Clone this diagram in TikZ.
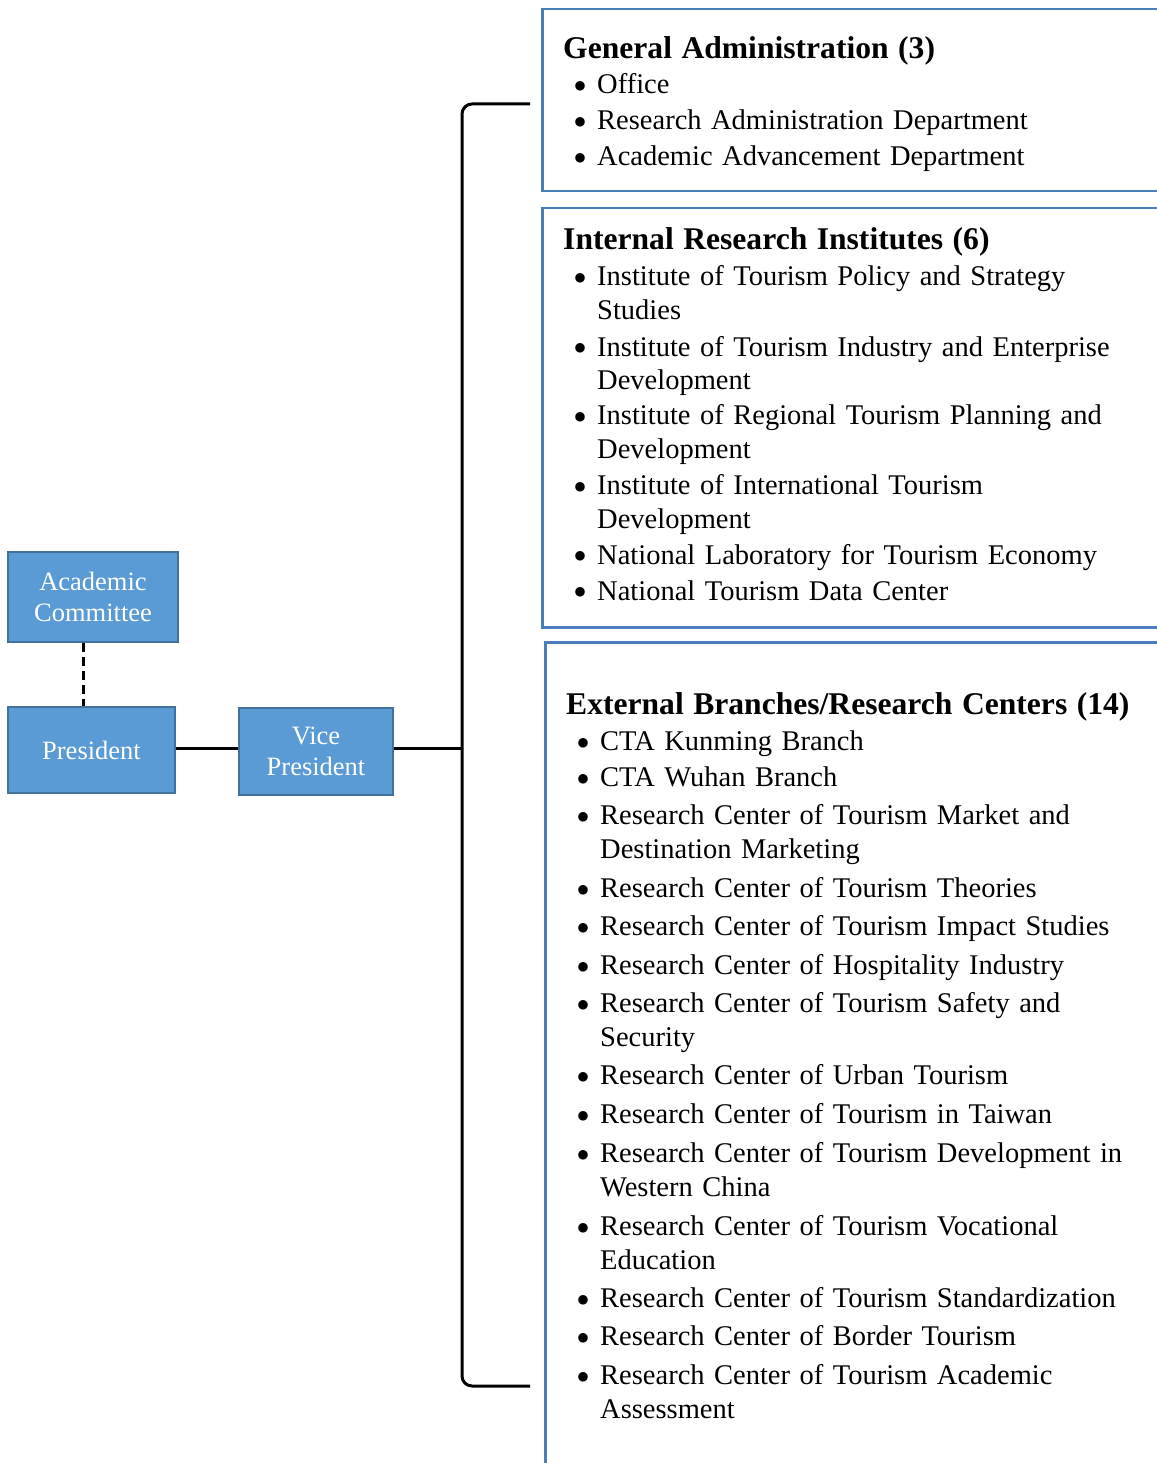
\documentclass[tikz,border=0pt]{standalone}
\usepackage{fontspec}
\setmainfont{Liberation Serif}
\usepackage{xcolor}
\usepackage{graphicx}
\usepackage{tikz}
\usetikzlibrary{positioning, calc}
\definecolor{boxfill}{HTML}{5B9BD5}
\definecolor{boxline}{HTML}{41719C}
\definecolor{frameblue}{HTML}{4A7EBB}

\newcommand{\bitem}{\hspace*{10pt}\makebox[24pt][l]{\smash{\raisebox{-0.19em}{\scalebox{1.4}{\textbullet}}}}}
\newcommand{\bcont}{\hspace*{34pt}}
\newcommand{\listhead}[1]{{\fontsize{31.6}{34}\selectfont\bfseries #1}}

\begin{document}
\begin{tikzpicture}[x=1pt, y=-1pt,
    orgbox/.style={
        rectangle, fill=boxfill, draw=boxline, line width=2pt,
        text=white, align=center, inner sep=0pt,
        font=\fontsize{26.5}{31}\selectfont,
    },
    framebox/.style={
        rectangle, draw=frameblue, line width=2.5pt,
        anchor=north west, inner sep=0pt,
    },
    listtext/.style={
        anchor=north west, inner sep=0pt, align=left,
        text width=600pt,
    },
    link/.style={draw=black, line width=3pt},
    bracket/.style={draw=black, line width=3pt, rounded corners=10pt},
]
\useasboundingbox (0,0) rectangle (1156,1463);

% ── Left: leadership ───────────────────────────────────────────────────
\node[orgbox, minimum width=170pt, minimum height=90pt] (acad) at (93,597) {Academic\\Committee};
\node[orgbox, minimum width=167pt, minimum height=86pt] (pres) at (91.5,750) {President};
\node[orgbox, minimum width=154pt, minimum height=87pt] (vice) at (316,751) {Vice\\President};

% ── Right: frames ──────────────────────────────────────────────────────
\node[framebox, minimum width=640pt, minimum height=182pt] (genbox) at (541,8) {};
\node[framebox, minimum width=640pt, minimum height=419pt] (intbox) at (541,207) {};
\node[framebox, minimum width=640pt, minimum height=860pt] (extbox) at (544,641) {};

% ── General Administration ─────────────────────────────────────────────
\node[listtext, font=\fontsize{28.5}{34}\selectfont] (genlist) at (563,36.6) {
    \listhead{General Administration (3)}\\[1pt]
    \bitem Office\\[2pt]
    \bitem Research Administration Department\\[2pt]
    \bitem Academic Advancement Department
};

% ── Internal Research Institutes ───────────────────────────────────────
\node[listtext, font=\fontsize{28.5}{33.5}\selectfont] (intlist) at (563,227) {
    \listhead{Internal Research Institutes (6)}\\[3pt]
    \bitem Institute of Tourism Policy and Strategy\\
    \bcont Studies\\[3.5pt]
    \bitem Institute of Tourism Industry and Enterprise\\
    \bcont Development\\[1.5pt]
    \bitem Institute of Regional Tourism Planning and\\
    \bcont Development\\[3pt]
    \bitem Institute of International Tourism\\
    \bcont Development\\[2.5pt]
    \bitem National Laboratory for Tourism Economy\\[2.5pt]
    \bitem National Tourism Data Center
};

% ── External Branches / Research Centers ───────────────────────────────
\node[listtext, font=\fontsize{28.5}{34}\selectfont] (extlist) at (566,692.6) {
    \listhead{External Branches/Research Centers (14)}\\[2pt]
    \bitem CTA Kunming Branch\\[2pt]
    \bitem CTA Wuhan Branch\\[4pt]
    \bitem Research Center of Tourism Market and\\
    \bcont Destination Marketing\\[5pt]
    \bitem Research Center of Tourism Theories\\[4pt]
    \bitem Research Center of Tourism Impact Studies\\[5pt]
    \bitem Research Center of Hospitality Industry\\[4pt]
    \bitem Research Center of Tourism Safety and\\
    \bcont Security\\[4pt]
    \bitem Research Center of Urban Tourism\\[5pt]
    \bitem Research Center of Tourism in Taiwan\\[5pt]
    \bitem Research Center of Tourism Development in\\
    \bcont Western China\\[5pt]
    \bitem Research Center of Tourism Vocational\\
    \bcont Education\\[4pt]
    \bitem Research Center of Tourism Standardization\\[4pt]
    \bitem Research Center of Border Tourism\\[5pt]
    \bitem Research Center of Tourism Academic\\
    \bcont Assessment
};

% ── Links ──────────────────────────────────────────────────────────────
\coordinate (brmid) at (462,748);
\coordinate (brtop) at (530,104);
\coordinate (brbot) at (530,1386);
\draw[link, dash pattern=on 9pt off 5pt] ([xshift=-10pt]acad.south) -- ([xshift=-10pt]acad.south |- pres.north);
\draw[link] (pres.east |- brmid) -- (vice.west |- brmid);
\draw[link] (vice.east |- brmid) -- (brmid);
\draw[bracket] (brtop) -- (brtop -| brmid) -- (brbot -| brmid) -- (brbot);

\end{tikzpicture}
\end{document}
